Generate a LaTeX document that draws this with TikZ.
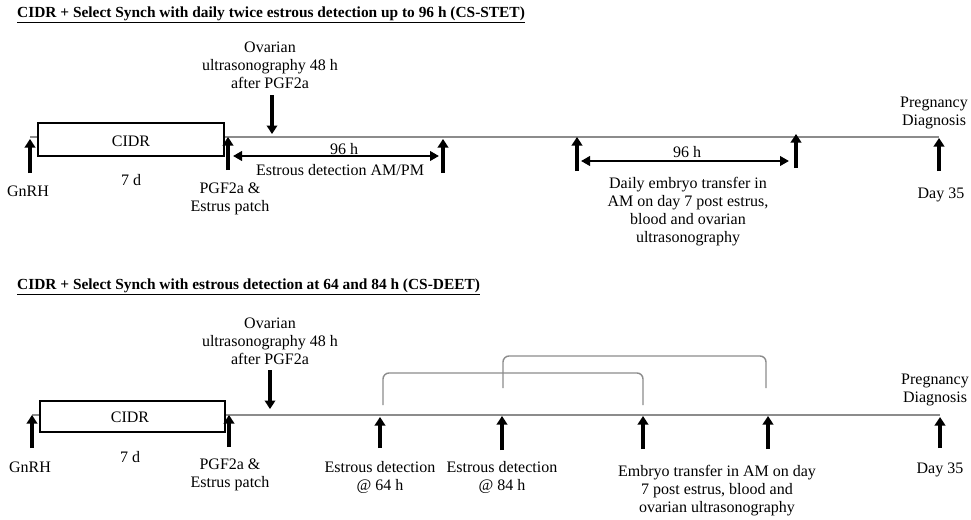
\documentclass[tikz,border=0pt]{standalone}
\usepackage{fontspec}
\setmainfont{Liberation Serif}
\usetikzlibrary{arrows.meta}
\definecolor{tline}{HTML}{8C8C8C}
\tikzset{
  txt/.style={inner sep=0pt, font=\fontsize{16}{18}\selectfont, align=center},
  ttl/.style={inner sep=0pt, anchor=west, font=\fontsize{15.4}{17}\selectfont\bfseries},
  evarrow/.style={line width=3.4pt, -{Triangle[width=10.5pt,length=8.5pt]}},
  spanarrow/.style={line width=2.4pt, {Triangle[width=9.5pt,length=9pt]}-{Triangle[width=9.5pt,length=9pt]}},
  timeline/.style={draw=tline, line width=1.5pt},
  cidrbox/.style={draw=black, fill=white, line width=1.4pt},
  brack/.style={draw=tline, line width=1.4pt, rounded corners=6pt}
}
\begin{document}
\begin{tikzpicture}[x=1pt,y=-1pt]
\useasboundingbox[fill=white] (0,0) rectangle (971,519);

% ===== Top protocol =====
\node[ttl] (t1) at (17,15) {\underline{CIDR + Select Synch with daily twice estrous detection up to 96 h (CS-STET)}};

\coordinate (a1s) at (30,137);
\coordinate (a1e) at (939,137);
\draw[timeline] (a1s) -- (a1e);
\draw[cidrbox] (38,123) rectangle (224,156);
\node[txt] (cidr1) at (131,141) {CIDR};

\coordinate (g1b) at (30,173); \coordinate (g1t) at (30,139);
\draw[evarrow] (g1b) -- (g1t);
\node[txt] (gnrh1) at (28,191) {GnRH};
\node[txt] (d7a) at (131,180) {7 d};

\coordinate (p1b) at (228,170); \coordinate (p1t) at (228,137);
\draw[evarrow] (p1b) -- (p1t);
\node[txt, anchor=north] (pgf1) at (230,183) {PGF2a \&\\Estrus patch};

\node[txt] (ov1) at (270,65) {Ovarian\\ultrasonography 48 h\\after PGF2a};
\coordinate (o1t) at (272,95); \coordinate (o1b) at (272,134);
\draw[evarrow] (o1t) -- (o1b);

\coordinate (s1l) at (233,156); \coordinate (s1r) at (439,156);
\draw[spanarrow] (s1l) -- (s1r);
\node[txt] (h96a) at (344,149) {96 h};
\node[txt] (edam) at (340,170) {Estrous detection AM/PM};

\coordinate (e1b) at (443,173); \coordinate (e1t) at (443,139);
\draw[evarrow] (e1b) -- (e1t);

\coordinate (f1b) at (577,171); \coordinate (f1t) at (577,137);
\draw[evarrow] (f1b) -- (f1t);
\coordinate (s2l) at (581,161); \coordinate (s2r) at (789,161);
\draw[spanarrow] (s2l) -- (s2r);
\node[txt] (h96b) at (687,152) {96 h};
\coordinate (f2b) at (796,168); \coordinate (f2t) at (796,134);
\draw[evarrow] (f2b) -- (f2t);
\node[txt, anchor=north] (daily) at (688,177) {Daily embryo transfer in\\AM on day 7 post estrus,\\blood and ovarian\\ultrasonography};

\coordinate (pr1b) at (939,171); \coordinate (pr1t) at (939,138);
\draw[evarrow] (pr1b) -- (pr1t);
\node[txt] (preg1) at (934,113) {Pregnancy\\Diagnosis};
\node[txt] (day1) at (941,195) {Day 35};

% ===== Bottom protocol =====
\node[ttl] (t2) at (17,287) {\underline{CIDR + Select Synch with estrous detection at 64 and 84 h (CS-DEET)}};

\coordinate (a2s) at (32,415);
\coordinate (a2e) at (940,415);
\draw[timeline] (a2s) -- (a2e);
\draw[cidrbox] (40,401) rectangle (225,432);
\node[txt] (cidr2) at (130,417) {CIDR};

\coordinate (g2b) at (32,448); \coordinate (g2t) at (32,415);
\draw[evarrow] (g2b) -- (g2t);
\node[txt] (gnrh2) at (30,467) {GnRH};
\node[txt] (d7b) at (130,457) {7 d};

\coordinate (p2b) at (229,447); \coordinate (p2t) at (229,415);
\draw[evarrow] (p2b) -- (p2t);
\node[txt, anchor=north] (pgf2) at (230,459) {PGF2a \&\\Estrus patch};

\node[txt] (ov2) at (270,341) {Ovarian\\ultrasonography 48 h\\after PGF2a};
\coordinate (o2t) at (270,370); \coordinate (o2b) at (270,409);
\draw[evarrow] (o2t) -- (o2b);

% brackets
\coordinate (b1l) at (383,405); \coordinate (b1r) at (643,405);
\draw[brack] (b1l) -- (383,373) -- (643,373) -- (b1r);
\coordinate (b2l) at (503,388); \coordinate (b2r) at (766,388);
\draw[brack] (b2l) -- (503,356) -- (766,356) -- (b2r);

\coordinate (q1b) at (380,448); \coordinate (q1t) at (380,417);
\draw[evarrow] (q1b) -- (q1t);
\node[txt, anchor=north] (ed64) at (380,461) {Estrous detection\\@ 64 h};

\coordinate (q2b) at (502,450); \coordinate (q2t) at (502,416);
\draw[evarrow] (q2b) -- (q2t);
\node[txt, anchor=north] (ed84) at (502,461) {Estrous detection\\@ 84 h};

\coordinate (q3b) at (643,449); \coordinate (q3t) at (643,416);
\draw[evarrow] (q3b) -- (q3t);
\coordinate (q4b) at (768,449); \coordinate (q4t) at (768,416);
\draw[evarrow] (q4b) -- (q4t);
\node[txt, anchor=north] (embryo) at (717,465) {Embryo transfer in AM on day\\7 post estrus, blood and\\ovarian ultrasonography};

\coordinate (pr2b) at (940,448); \coordinate (pr2t) at (940,417);
\draw[evarrow] (pr2b) -- (pr2t);
\node[txt] (preg2) at (935,390) {Pregnancy\\Diagnosis};
\node[txt] (day2) at (940,470) {Day 35};
\end{tikzpicture}
\end{document}
